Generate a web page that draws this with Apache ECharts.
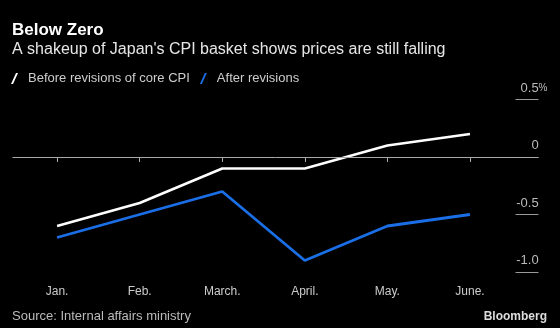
<!DOCTYPE html>
<html>
<head>
<meta charset="utf-8">
<script src="https://cdn.jsdelivr.net/npm/echarts@6/dist/echarts.min.js"></script>
<style>
html,body{margin:0;padding:0;background:#000;}
#c{width:560px;height:328px;}
</style>
</head>
<body>
<div id="c"></div>
<script>
var categories = ['Jan.', 'Feb.', 'March.', 'April.', 'May.', 'June.'];
var beforeRevisions = [-0.6, -0.4, -0.1, -0.1, 0.1, 0.2];
var afterRevisions = [-0.7, -0.5, -0.3, -0.9, -0.6, -0.5];
var yTickValues = [-1.0, -0.5, 0, 0.5];
var yTickLabels = ['-1.0', '-0.5', '0', '0.5%'];
var seriesNames = ['Before revisions of core CPI', 'After revisions'];

var FONT = 'Liberation Sans';
var chart = echarts.init(document.getElementById('c'), null, {renderer: 'canvas'});
function pts(arr){ return arr.map(function(v, i){ return [i, v]; }); }
var catIdx = categories.map(function(_, i){ return i; });
var slash = 'path://M0,11 L2,11 L7,0 L5,0 Z';

chart.setOption({
  backgroundColor: '#000',
  animation: false,
  title: [
    {text: 'Below Zero', left: 12, top: 22, padding: 0, textStyle: {color: '#fff', fontFamily: FONT, fontWeight: 'bold', fontSize: 17}},
    {text: "A shakeup of Japan's CPI basket shows prices are still falling", left: 12, top: 42, padding: 0, textStyle: {color: '#e6e6e6', fontFamily: FONT, fontWeight: 'normal', fontSize: 16}},
    {text: 'Source: Internal affairs ministry', left: 12, top: 310, padding: 0, textStyle: {color: '#bbb', fontFamily: FONT, fontWeight: 'normal', fontSize: 13}},
    {text: 'Bloomberg', right: 13, top: 311, padding: 0, textStyle: {color: '#ddd', fontFamily: FONT, fontWeight: 'bold', fontSize: 12}}
  ],
  legend: {
    left: 11, top: 72, padding: 0,
    itemWidth: 7, itemHeight: 11, itemGap: 10,
    icon: slash,
    data: seriesNames,
    textStyle: {color: '#ccc', fontFamily: FONT, fontSize: 13, padding: [0, 0, 0, 5]}
  },
  grid: {left: 12.5, right: 21.5, top: 99.5, bottom: 56},
  xAxis: {
    type: 'value', min: -0.54, max: 5.83,
    axisLine: {show: false},
    splitLine: {show: false},
    axisTick: {show: true, customValues: catIdx, length: 5, lineStyle: {color: '#aaa'}},
    axisLabel: {customValues: catIdx, color: '#ccc', fontFamily: FONT, fontSize: 12, margin: 14,
      formatter: function(v){ return categories[Math.round(v)]; }}
  },
  yAxis: {
    type: 'value', position: 'right', min: -1, max: 0.5, interval: 0.5,
    axisLine: {show: false, onZero: false},
    splitLine: {show: false},
    axisTick: {show: true, inside: true, length: 23, lineStyle: {color: '#999'}},
    axisLabel: {inside: true, margin: -9, color: '#bbb', fontFamily: FONT, fontSize: 13, verticalAlign: 'bottom', padding: [0, 0, 5, 0],
      formatter: function(v){
        var i = yTickValues.indexOf(Math.round(v * 10) / 10);
        var s = i >= 0 ? yTickLabels[i] : '';
        if (s.slice(-1) === '%') return '{n|' + s.slice(0, -1) + '}{p|%}';
        return '{n|' + s + '}{h|%}';
      },
      rich: {
        n: {color: '#bbb', fontFamily: FONT, fontSize: 13},
        p: {color: '#bbb', fontFamily: FONT, fontSize: 10},
        h: {color: 'rgba(0,0,0,0)', fontFamily: FONT, fontSize: 10}
      }
    }
  },
  series: [
    {name: seriesNames[0], type: 'line', data: pts(beforeRevisions), symbol: 'none', color: '#ffffff', lineStyle: {width: 2.5},
      markLine: {silent: true, symbol: 'none', label: {show: false}, lineStyle: {color: '#aaa', width: 1, type: 'solid'}, data: [{yAxis: 0}]}},
    {name: seriesNames[1], type: 'line', data: pts(afterRevisions), symbol: 'none', color: '#1a6ee6', lineStyle: {width: 2.8}}
  ]
});
</script>
</body>
</html>
